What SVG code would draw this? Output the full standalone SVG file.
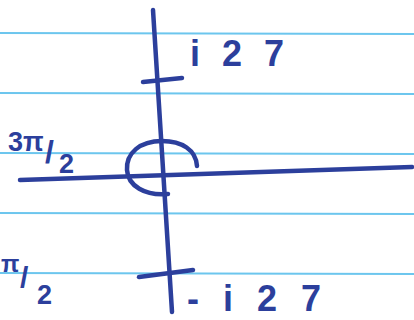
<svg xmlns="http://www.w3.org/2000/svg" width="414" height="320" viewBox="0 0 414 320">
<style>
.rule{stroke:#6cc6ee;stroke-width:2;fill:none}
.ink{stroke:#2c3f9c;stroke-width:4.5;fill:none;stroke-linecap:round;stroke-linejoin:round}
.lbl{font-family:"Liberation Sans",Arial,sans-serif;font-weight:bold;fill:#2c3f9c}
</style>
<rect width="414" height="320" fill="#ffffff"/>
<g id="paper">
<line class="rule" x1="0" y1="33" x2="414" y2="34"/>
<line class="rule" x1="0" y1="93" x2="414" y2="94"/>
<line class="rule" x1="0" y1="153" x2="414" y2="154"/>
<line class="rule" x1="0" y1="213" x2="414" y2="214"/>
<line class="rule" x1="0" y1="273" x2="414" y2="274"/>
</g>
<g id="connectors">
<path id="real-axis" class="ink" d="M20,180 Q200,174 412,167"/>
<path id="imag-axis" class="ink" d="M153,10 Q163,160 172,312"/>
<path id="contour" class="ink" d="M197,166 C196,150 182,141 162,141 C140,141 126,153 127,170 C128,186 145,196 168,194"/>
<path id="tick-top" class="ink" d="M143,82 L182,78"/>
<path id="tick-bottom" class="ink" d="M139,277 L193,270"/>
</g>
<g id="label-i27">
<text class="lbl" x="190" y="66" font-size="36" textLength="94" lengthAdjust="spacing">i27</text>
</g>
<g id="label-minus-i27">
<text class="lbl" x="187" y="311" font-size="36" textLength="134" lengthAdjust="spacing">-i27</text>
</g>
<g id="label-3pi2">
<text class="lbl" x="8" y="151" font-size="27">3π</text>
<text class="lbl" x="45" y="163" font-size="32">/</text>
<text class="lbl" x="59" y="173" font-size="27">2</text>
</g>
<g id="label-pi2">
<text class="lbl" x="1" y="272" font-size="24">π</text>
<text class="lbl" x="20" y="288" font-size="30">/</text>
<text class="lbl" x="37" y="304" font-size="27">2</text>
</g>
</svg>
